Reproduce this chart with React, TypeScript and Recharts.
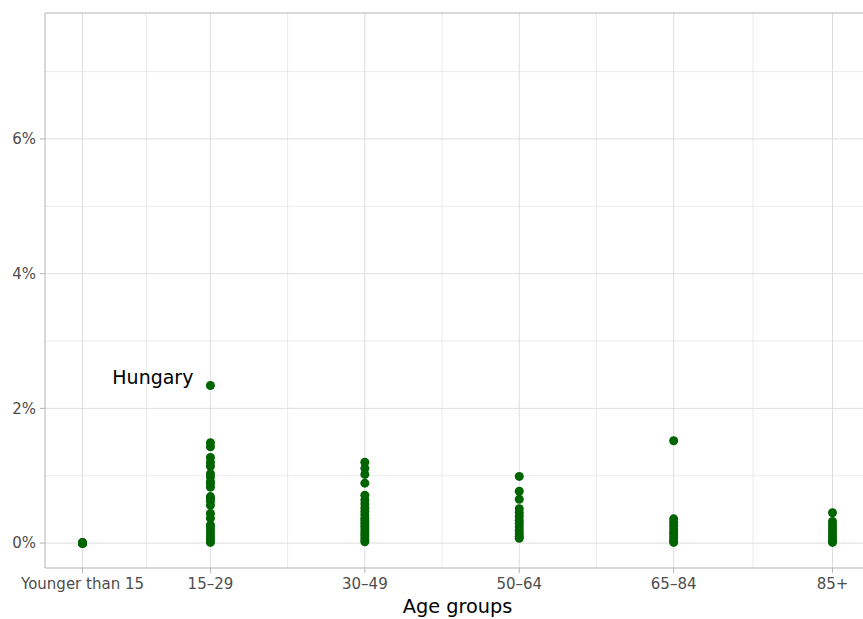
import React from 'react';
import {
  ScatterChart,
  Scatter,
  XAxis,
  YAxis,
  CartesianGrid,
  ReferenceLine,
} from 'recharts';

// Age group categories and their positions on the numeric x scale
const ageGroups = ['Younger than 15', '15–29', '30–49', '50–64', '65–84', '85+'];
const agePositions = [7.5, 22, 39.5, 57, 74.5, 92.5];
const minorXBreaks = [14.75, 30.75, 48.25, 65.75, 83.5];

// Values (%) per age group, one point per country
const valuesUnder15 = [0, 0, 0, 0, 0, 0, 0, 0, 0, 0, 0, 0];
const values15to29 = [
  1.49, 1.43, 1.27, 1.2, 1.14, 1.03, 0.98, 0.91, 0.88, 0.83, 0.69, 0.66, 0.62,
  0.56, 0.44, 0.37, 0.27, 0.23, 0.19, 0.14, 0.09, 0.05, 0.01,
];
const values30to49 = [
  1.2, 1.11, 1.02, 0.89, 0.71, 0.64, 0.58, 0.52, 0.47, 0.42, 0.37, 0.33, 0.29,
  0.25, 0.21, 0.17, 0.13, 0.09, 0.05, 0.02,
];
const values50to64 = [0.99, 0.77, 0.65, 0.51, 0.45, 0.4, 0.34, 0.29, 0.24, 0.19, 0.14, 0.1, 0.07];
const values65to84 = [1.52, 0.36, 0.31, 0.26, 0.21, 0.16, 0.12, 0.08, 0.04, 0.01];
const values85plus = [0.45, 0.32, 0.27, 0.22, 0.17, 0.12, 0.08, 0.04, 0.01];

// Labelled outlier
const labelledCountries = ['Hungary'];
const labelledGroups = ['15–29'];
const labelledValues = [2.34];

// Axis ticks
const yTicks = [0, 2, 4, 6];
const yMinorBreaks = [1, 3, 5, 7];
const yDomain: [number, number] = [-0.37, 7.87];
const xDomain: [number, number] = [3.25, 96.75];

const groupValues = [valuesUnder15, values15to29, values30to49, values50to64, values65to84, values85plus];

const points = groupValues.flatMap((vals, i) =>
  vals.map((v) => ({ x: agePositions[i], y: v, group: ageGroups[i] }))
);

const labelled = labelledCountries.map((c, i) => ({
  x: agePositions[ageGroups.indexOf(labelledGroups[i])],
  y: labelledValues[i],
  country: c,
}));

const FONT = 'DejaVu Sans, sans-serif';
const GREEN = '#006400';
const AXIS = '#b3b3b3';
const GRID = '#dedede';

const tickFmtX = (v: number) => {
  const idx = agePositions.indexOf(v);
  return idx >= 0 ? ageGroups[idx] : '';
};

const Dot = (props: any) => {
  const { cx, cy } = props;
  return <circle cx={cx} cy={cy} r={4.5} fill={GREEN} />;
};

const LabelledDot = (props: any) => {
  const { cx, cy, payload } = props;
  return (
    <g>
      <circle cx={cx} cy={cy} r={4.5} fill={GREEN} />
      <text
        x={cx - 17}
        y={cy - 1}
        textAnchor="end"
        fontFamily={FONT}
        fontSize={19}
        fill="#000"
      >
        {payload.country}
      </text>
    </g>
  );
};

export default function App() {
  return (
    <div
      style={{
        position: 'absolute',
        left: 0,
        top: 0,
        width: 863,
        height: 619,
        overflow: 'hidden',
        background: '#fff',
      }}
    >
      <ScatterChart
        width={871}
        height={619}
        margin={{ top: 13, right: 1, bottom: 0, left: 0 }}
        style={{ fontFamily: FONT }}
      >
        <CartesianGrid
          stroke={GRID}
          strokeWidth={0.6}
          horizontalValues={yMinorBreaks}
          verticalValues={minorXBreaks}
        />
        <CartesianGrid
          stroke={GRID}
          strokeWidth={1}
          horizontalValues={yTicks}
          verticalValues={agePositions}
        />
        <XAxis
          type="number"
          dataKey="x"
          domain={xDomain}
          ticks={agePositions}
          tickFormatter={tickFmtX}
          allowDataOverflow
          height={51}
          stroke={AXIS}
          tickSize={5}
          tickMargin={5}
          tick={{ fill: '#4d4d4d', fontSize: 15, fontFamily: FONT }}
          interval={0}
          label={{
            value: 'Age groups',
            position: 'insideBottom',
            offset: 6,
            fill: '#000',
            fontSize: 19.3,
            fontFamily: FONT,
          }}
        />
        <YAxis
          type="number"
          dataKey="y"
          domain={yDomain}
          ticks={yTicks}
          tickFormatter={(v: number) => `${v}%`}
          allowDataOverflow
          width={45}
          stroke={AXIS}
          tickSize={5}
          tickMargin={4}
          tick={{ fill: '#4d4d4d', fontSize: 15, fontFamily: FONT }}
        />
        <ReferenceLine y={yDomain[1]} stroke={AXIS} strokeWidth={1} />
        <Scatter data={points} shape={Dot} isAnimationActive={false} />
        <Scatter data={labelled} shape={LabelledDot} isAnimationActive={false} />
      </ScatterChart>
    </div>
  );
}
